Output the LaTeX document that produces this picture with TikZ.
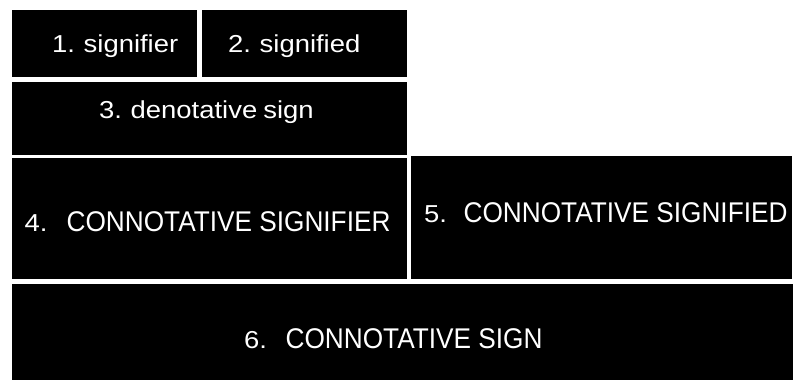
\documentclass[tikz,border=0pt]{standalone}
\usepackage{fontspec}
\setmainfont{Liberation Sans}
\newfontfamily\numfam[FakeStretch=1.12, WordSpace=0.8]{Liberation Sans}
\newfontfamily\capfam[FakeStretch=0.92]{Liberation Sans}
\newcommand{\lowtxt}{\numfam\fontsize{24.5}{28}\selectfont}
\newcommand{\captxt}{\capfam\fontsize{28.5}{32}\selectfont}
\tikzset{
  blockbox/.style={fill=black, draw=none, inner sep=0pt, rectangle},
  label/.style={text=white, anchor=base west, inner sep=0pt}
}
\begin{document}
\begin{tikzpicture}[x=1pt, y=-1pt]
\useasboundingbox (0,0) rectangle (793,380);
% blocks
\node[blockbox, minimum width=185pt, minimum height=67pt] (s1) at (104.5,43.5) {};
\node[blockbox, minimum width=205pt, minimum height=67pt] (s2) at (304.5,43.5) {};
\node[blockbox, minimum width=395pt, minimum height=73pt] (s3) at (209.5,118.5) {};
\node[blockbox, minimum width=395pt, minimum height=121pt] (s4) at (209.5,218.5) {};
\node[blockbox, minimum width=381pt, minimum height=123pt] (s5) at (601.5,217.5) {};
\node[blockbox, minimum width=781pt, minimum height=96pt] (s6) at (402.5,332) {};
% labels
\node[label] (t1) at (52,52) {\lowtxt 1. signifier};
\node[label] (t2) at (228,52) {\lowtxt 2. signified};
\node[label] (t3) at (99,118) {\lowtxt 3. denotative sign};
\node[label] (t4) at (24.5,231) {\lowtxt 4.\hspace{19pt}\captxt CONNOTATIVE SIGNIFIER};
\node[label] (t5) at (424,222) {\lowtxt 5.\hspace{16.5pt}\captxt CONNOTATIVE SIGNIFIED};
\node[label] (t6) at (244,348) {\lowtxt 6.\hspace{18.5pt}\captxt CONNOTATIVE SIGN};
\end{tikzpicture}
\end{document}
